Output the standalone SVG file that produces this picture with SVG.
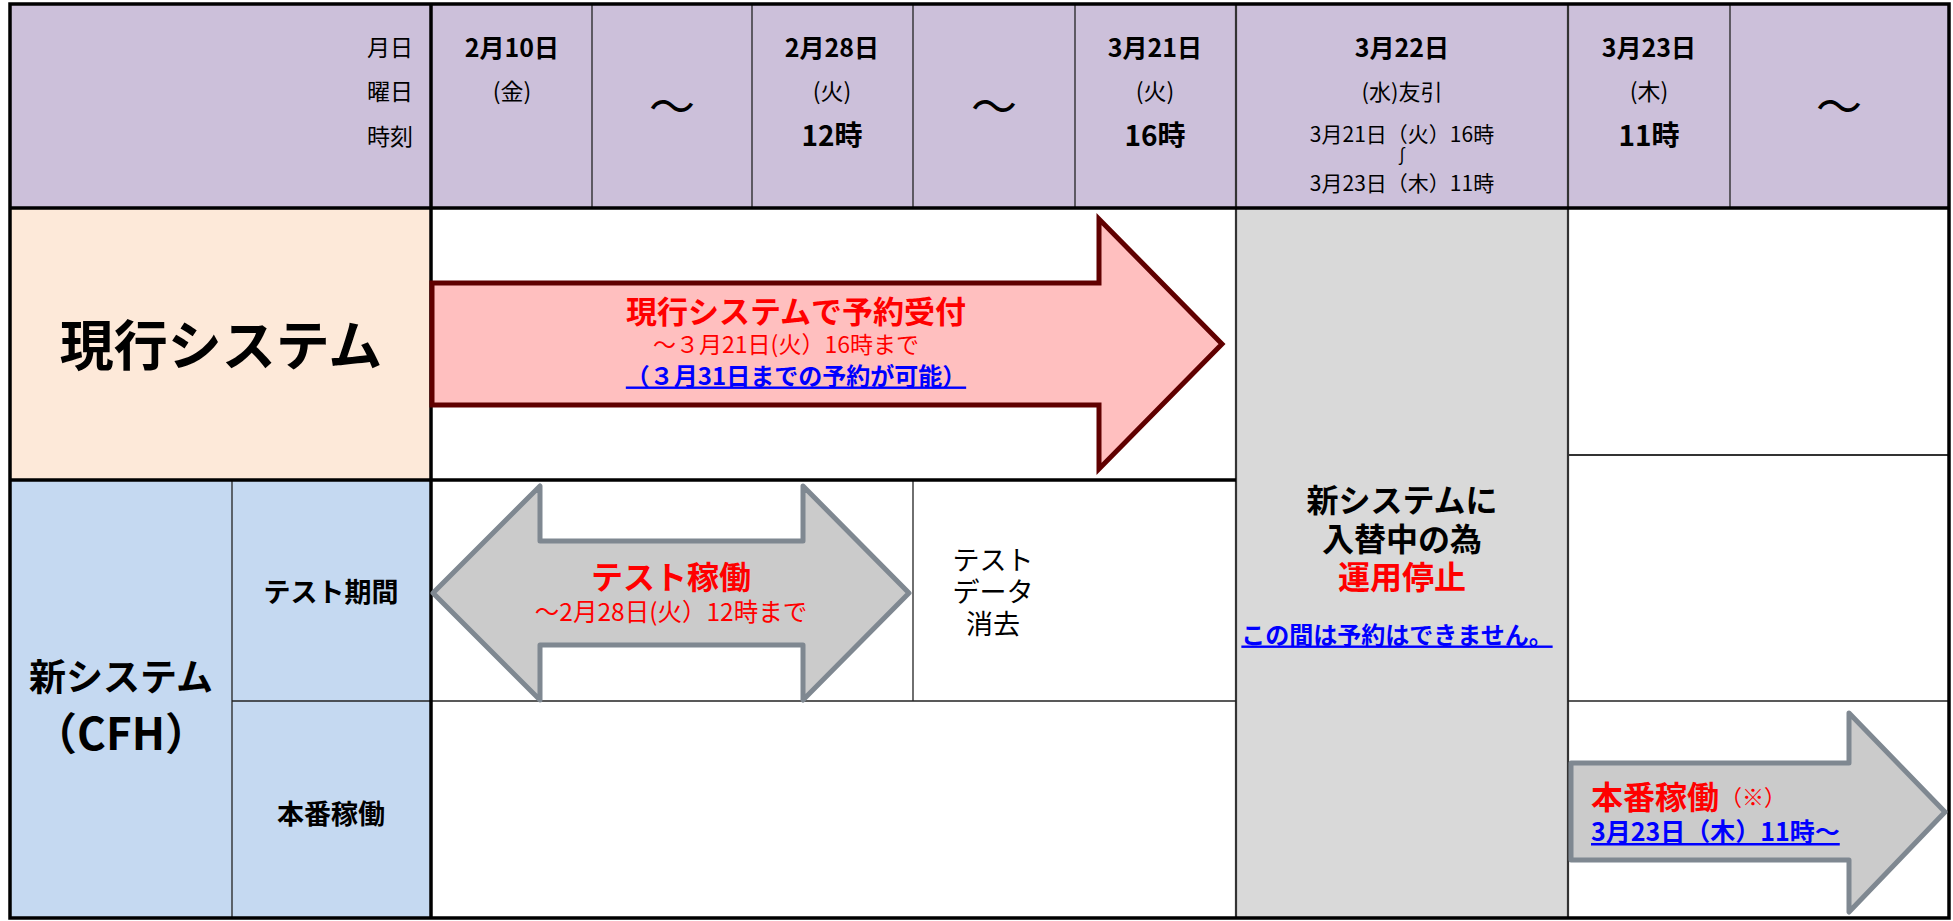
<svg xmlns="http://www.w3.org/2000/svg" width="1953" height="921" viewBox="0 0 1953 921">
<style>
text{font-family:"Noto Sans CJK JP","Noto Sans",sans-serif;dominant-baseline:central;text-anchor:middle;fill:#000}
.b{font-weight:bold}
.red{fill:#FF0000}
.blue{fill:#0000FF;text-decoration:underline}
.thick{stroke:#000;stroke-width:3.5;fill:none}
.med{stroke:#333;stroke-width:2.2;fill:none}
.thin{stroke:#222;stroke-width:1.3;fill:none}
.arrowR{fill:#FFBFBF;stroke:#600000;stroke-width:5;stroke-linejoin:miter}
.arrowG{fill:#CBCBCB;stroke:#7F8891;stroke-width:5;stroke-linejoin:round}
.date{font-weight:bold;font-size:25px}
.day{font-size:23px}
.hour{font-weight:bold;font-size:28px}
.wave{font-size:46px}
</style>
<rect x="0" y="0" width="1953" height="921" fill="#fff"/>
<g id="backgrounds">
<rect x="10" y="4" width="1939" height="204" fill="#CCC0DA"/>
<rect x="10" y="208" width="421" height="272" fill="#FDE9D9"/>
<rect x="10" y="480" width="421" height="438" fill="#C5D9F1"/>
<rect x="1236" y="208" width="332" height="710" fill="#D9D9D9"/>
</g>
<g id="grid">
<line class="thin" x1="592" y1="4" x2="592" y2="208"/>
<line class="thin" x1="752" y1="4" x2="752" y2="208"/>
<line class="thin" x1="913" y1="4" x2="913" y2="208"/>
<line class="thin" x1="1075" y1="4" x2="1075" y2="208"/>
<line class="thin" x1="1730" y1="4" x2="1730" y2="208"/>
<line class="med" x1="1236" y1="4" x2="1236" y2="918"/>
<line class="med" x1="1568" y1="4" x2="1568" y2="918"/>
<line class="med" x1="1568" y1="455" x2="1949" y2="455"/>
<line class="thin" x1="232" y1="480" x2="232" y2="918"/>
<line class="thin" x1="913" y1="480" x2="913" y2="701"/>
<line class="thin" x1="232" y1="701" x2="1236" y2="701"/>
<line class="thin" x1="1568" y1="701" x2="1949" y2="701"/>
<line class="thick" x1="10" y1="208" x2="1949" y2="208"/>
<line class="thick" x1="10" y1="480" x2="1236" y2="480"/>
<line class="thick" x1="431" y1="4" x2="431" y2="918"/>
<rect class="thick" x="10" y="4" width="1939" height="914"/>
</g>
<g id="header">
<text x="413" y="46" style="text-anchor:end" font-size="23">月日</text>
<text x="413" y="90" style="text-anchor:end" font-size="23">曜日</text>
<text x="413" y="135" style="text-anchor:end" font-size="23">時刻</text>
<text class="date" x="512" y="46">2月10日</text>
<text class="day" x="512" y="90">(金)</text>
<text class="wave" x="672" y="103">～</text>
<text class="date" x="832" y="46">2月28日</text>
<text class="day" x="832" y="90">(火)</text>
<text class="hour" x="832" y="134">12時</text>
<text class="wave" x="994" y="103">～</text>
<text class="date" x="1155" y="46">3月21日</text>
<text class="day" x="1155" y="90">(火)</text>
<text class="hour" x="1155" y="134">16時</text>
<text class="date" x="1402" y="46">3月22日</text>
<text x="1402" y="90" font-size="22">(水)友引</text>
<text x="1402" y="133" font-size="21">3月21日（火）16時</text>
<text x="1402" y="155" font-size="18">∫</text>
<text x="1402" y="182" font-size="21">3月23日（木）11時</text>
<text class="date" x="1649" y="46">3月23日</text>
<text class="day" x="1649" y="90">(木)</text>
<text class="hour" x="1649" y="134">11時</text>
<text class="wave" x="1839" y="103">～</text>
</g>
<g id="current-system">
<text class="b" x="221" y="342" font-size="54">現行システム</text>
</g>
<g id="new-system">
<text class="b" x="121" y="675" font-size="37">新システム</text>
<text class="b" x="121" y="731" font-size="44">（CFH）</text>
</g>
<g id="test-period">
<text class="b" x="331" y="590" font-size="27">テスト期間</text>
</g>
<g id="production">
<text class="b" x="331" y="812" font-size="27">本番稼働</text>
</g>
<g id="connectors">
<polygon class="arrowR" points="432,283 1099,283 1099,219 1222,344 1099,469 1099,405 432,405"/>
<polygon class="arrowG" points="433,593 540,486 540,541 803,541 803,486 909,593 803,700 803,645 540,645 540,700"/>
<polygon class="arrowG" points="1571,763 1849,763 1849,713 1945,812 1849,912 1849,860 1571,860"/>
</g>
<g id="reservation-arrow">
<text class="b red" x="796" y="309" font-size="31">現行システムで予約受付</text>
<text class="red" x="786" y="343" font-size="23">～３月21日(火）16時まで</text>
<text class="b blue" x="796" y="374" font-size="24">（３月31日までの予約が可能）</text>
</g>
<g id="test-arrow">
<text class="b red" x="671" y="575" font-size="32">テスト稼働</text>
<text class="red" x="671" y="610" font-size="24.5">～2月28日(火）12時まで</text>
</g>
<g id="test-data">
<text x="993" y="558" font-size="27">テスト</text>
<text x="993" y="590" font-size="27">データ</text>
<text x="993" y="622" font-size="27">消去</text>
</g>
<g id="stop">
<text class="b" x="1402" y="498" font-size="32">新システムに</text>
<text class="b" x="1402" y="537" font-size="32">入替中の為</text>
<text class="b red" x="1402" y="575" font-size="32">運用停止</text>
<text class="b blue" x="1397" y="633" font-size="24">この間は予約はできません。</text>
</g>
<g id="production-arrow">
<text class="b red" x="1591" y="795" style="text-anchor:start" font-size="32">本番稼働</text>
<text class="red" x="1720" y="795" style="text-anchor:start" font-size="22">（※）</text>
<text class="b blue" x="1591" y="830" style="text-anchor:start" font-size="25">3月23日（木）11時～</text>
</g>
</svg>
